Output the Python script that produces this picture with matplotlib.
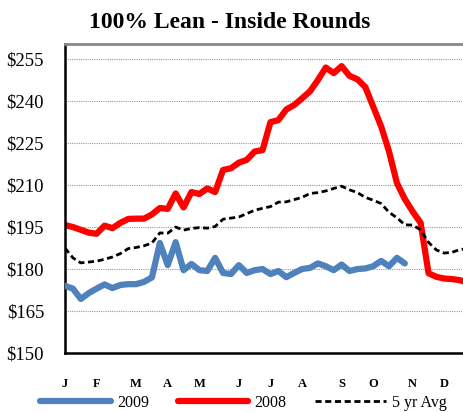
import matplotlib.pyplot as plt
import numpy as np

# weekly prices, $/cwt
weeks_2009 = np.arange(44)
price_2009 = [174, 173, 169.3, 171.4, 173, 174.5, 173.2, 174.3, 174.6, 174.6,
              175.4, 177, 189.3, 181.4, 189.6, 179.6, 181.8, 179.6, 179.3, 184,
              178.6, 178.2, 181.4, 178.6, 179.6, 180, 178.2, 179.3, 177.1, 178.6,
              180, 180.4, 182, 181, 179.6, 181.6, 179.3, 180, 180.2, 181,
              182.9, 181, 184, 182]

weeks_2008 = np.arange(52)
price_2008 = [195.7, 195, 194, 193, 192.6, 195.5, 194.6, 196.5, 197.9, 198,
              198, 199.5, 201.8, 201.5, 207, 202, 207.5, 206.8, 208.8, 207.5,
              215.4, 216, 218, 219, 222, 222.5, 232.5, 233.2, 237, 238.6,
              241, 243.5, 247.5, 252, 250, 252.5, 249, 247.8, 245, 238,
              231, 222, 210.7, 205, 200.5, 196.5, 178.5, 177.2, 176.6, 176.4,
              176, 175]

avg_5yr = [187.5, 184, 182.2, 182.5, 182.8, 183.5, 184.3, 185.5, 187.3, 187.7,
           188.3, 189.3, 192.9, 192.8, 195, 193.9, 194.5, 194.8, 194.6, 195.2,
           197.8, 198.2, 198.6, 199.8, 201, 201.7, 202.3, 203.9, 204, 204.8,
           205.6, 207, 207.3, 207.9, 208.8, 209.6, 208.3, 207.3, 205.6, 204.6,
           203.4, 200.3, 198.3, 195.8, 195.7, 194, 189.5, 186.8, 185.7, 186,
           187, 187.2]

month_weeks = [0, 4, 9, 13, 17, 22, 26, 30, 35, 39, 44, 48]
month_labels = ['J', 'F', 'M', 'A', 'M', 'J', 'J', 'A', 'S', 'O', 'N', 'D']
yticks = [150, 165, 180, 195, 210, 225, 240, 255]

plt.rcParams['font.family'] = ['Liberation Serif', 'DejaVu Serif']

fig = plt.figure(figsize=(4.64, 4.12), dpi=100)
ax = fig.add_axes([65/464, 59/412, 407/464, 309/412])

ax.plot(weeks_2009, price_2009, color='#4F81BD', lw=4.5, solid_capstyle='round',
        solid_joinstyle='round', label='2009', zorder=3)
ax.plot(weeks_2008, price_2008, color='#FF0000', lw=4.5, solid_capstyle='round',
        solid_joinstyle='round', label='2008', zorder=2)
ax.plot(weeks_2008, avg_5yr, color='black', lw=2, dashes=(2.2, 1.3),
        label='5 yr Avg', zorder=2)

ax.set_xlim(0, 51.5)
ax.set_ylim(150, 260.4)
ax.set_yticks(yticks)
ax.set_yticklabels(['$%d' % v for v in yticks], fontsize=13.5)
ax.set_xticks(month_weeks)
ax.set_xticklabels(month_labels, fontsize=9, fontweight='bold')
ax.tick_params(axis='both', length=0)
ax.tick_params(axis='x', pad=18)
ax.tick_params(axis='y', pad=15)
ax.yaxis.grid(True, color='#999999', lw=0.8, ls=(0, (1, 1)))
ax.set_axisbelow(True)

for s in ['left', 'bottom']:
    ax.spines[s].set_linewidth(1.8)
    ax.spines[s].set_color('black')
ax.spines['top'].set_color('#888888')
ax.spines['top'].set_linewidth(2)
ax.spines['right'].set_color('#888888')

fig.text(0.494, 0.945, '100% Lean - Inside Rounds', ha='center', va='center',
         fontsize=17, fontweight='bold')

fig.legend(loc='center', bbox_to_anchor=(0.525, 0.022), ncol=3, frameon=False,
           fontsize=11.5, handlelength=4.4, handletextpad=0.4, columnspacing=1.8)

fig.savefig('out.png', dpi=100)
